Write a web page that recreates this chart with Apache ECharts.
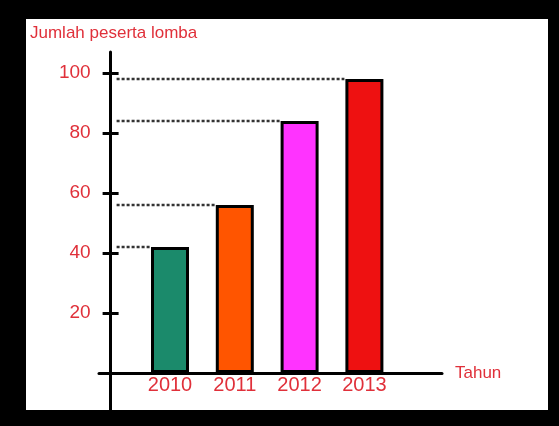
<!DOCTYPE html>
<html>
<head>
<meta charset="utf-8">
<script src="https://cdn.jsdelivr.net/npm/echarts@6/dist/echarts.min.js"></script>
<style>
  html, body { margin: 0; padding: 0; background: #000; width: 559px; height: 426px; overflow: hidden; }
  #panel { position: absolute; left: 26px; top: 19px; width: 522px; height: 391px; background: #fff; }
  #chart { position: absolute; left: 0; top: 0; width: 559px; height: 426px; }
</style>
</head>
<body>
<div id="panel"></div>
<div id="chart"></div>
<script>
// ---- data ----
const categories = ['2010', '2011', '2012', '2013'];
const values = [42, 56, 84, 98];
const barColors = ['#1b8a6b', '#ff5500', '#ff33ff', '#ee1111'];
const yTicks = [20, 40, 60, 80, 100];
const titleText = 'Jumlah peserta lomba';
const xName = 'Tahun';

// ---- style/layout constants ----
const RED = '#e0303a';
const FONT = 'Liberation Sans, Arial, sans-serif';
const Y_OFFSET = 27;
const BAR_W = 38;
const Y_MAX = 107;

const chart = echarts.init(document.getElementById('chart'), null, { renderer: 'canvas' });

chart.setOption({
  animation: false,
  title: {
    text: titleText,
    left: 25, top: 20,
    textStyle: { color: RED, fontSize: 17, fontWeight: 'normal', fontFamily: FONT }
  },
  grid: [
    // bars grid: bottom edge sits on value 0
    { left: 137.6, width: 259.2, top: 52, height: 321, outerBoundsMode: 'none', containLabel: false },
    // frame grid: long axis lines crossing at the origin
    { left: 99, width: 343, top: 52, height: 360, outerBoundsMode: 'none', containLabel: false }
  ],
  xAxis: [
    {
      type: 'category', gridIndex: 0, data: categories, position: 'bottom',
      axisLine: { show: false },
      axisTick: { show: false },
      axisLabel: { color: RED, fontSize: 20, fontFamily: FONT, margin: 2 },
      splitLine: { show: false }
    },
    {
      type: 'value', gridIndex: 1, min: -11.5, max: 331.5,
      axisLine: { show: true, onZero: true, lineStyle: { color: '#000', width: 3 } },
      axisTick: { show: false }, axisLabel: { show: false }, splitLine: { show: false },
      name: xName, nameLocation: 'end', nameGap: 13,
      nameTextStyle: { color: RED, fontSize: 17, fontFamily: FONT, verticalAlign: 'middle' }
    }
  ],
  yAxis: [
    {
      type: 'value', gridIndex: 0, min: 0, max: Y_MAX, offset: Y_OFFSET, position: 'left',
      axisLine: { show: false, onZero: false },
      axisTick: { show: true, inside: false, length: 8, customValues: yTicks, lineStyle: { color: '#000', width: 3 } },
      axisLabel: { show: true, customValues: yTicks, margin: 20, color: RED, fontSize: 19, fontFamily: FONT, padding: [0, 0, 4, 0] },
      splitLine: { show: false }
    },
    {
      type: 'value', gridIndex: 0, min: 0, max: Y_MAX, offset: Y_OFFSET, position: 'left',
      axisLine: { show: false, onZero: false },
      axisTick: { show: true, inside: true, length: 8, customValues: yTicks, lineStyle: { color: '#000', width: 3 } },
      axisLabel: { show: false }, splitLine: { show: false }
    },
    {
      type: 'value', gridIndex: 1, min: -13, max: Y_MAX, position: 'left',
      axisLine: { show: true, onZero: true, lineStyle: { color: '#000', width: 3 } },
      axisTick: { show: false }, axisLabel: { show: false }, splitLine: { show: false }
    }
  ],
  series: [
    {
      type: 'custom', xAxisIndex: 0, yAxisIndex: 0, z: 1,
      data: categories.map((c, i) => [i, values[i]]),
      renderItem: function (params, api) {
        const p = api.coord([api.value(0), api.value(1)]);
        const x0 = params.coordSys.x - Y_OFFSET + 6;
        const x1 = p[0] - BAR_W / 2 - 1;
        return {
          type: 'line',
          shape: { x1: x0, y1: p[1], x2: x1, y2: p[1] },
          style: { stroke: '#333', lineWidth: 2.5, lineDash: [3, 2] }
        };
      }
    },
    {
      type: 'bar', xAxisIndex: 0, yAxisIndex: 0, z: 3,
      barWidth: BAR_W,
      data: values.map((v, i) => ({
        value: v,
        itemStyle: { color: barColors[i], borderColor: '#000', borderWidth: 3 }
      }))
    }
  ]
});
</script>
</body>
</html>
